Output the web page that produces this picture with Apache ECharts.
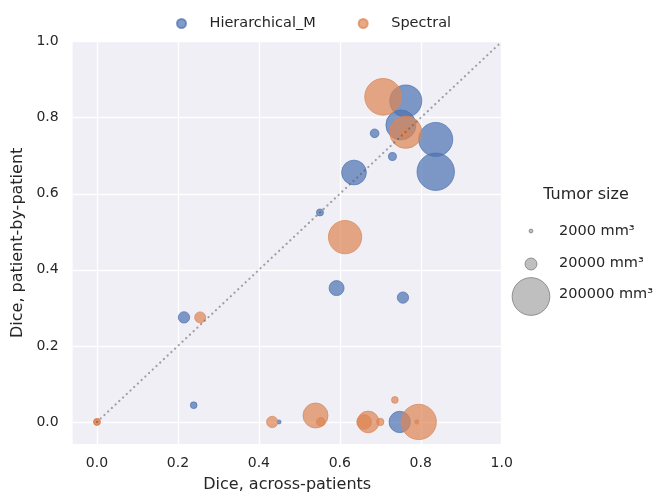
<!DOCTYPE html>
<html>
<head>
<meta charset="utf-8">
<script src="https://cdn.jsdelivr.net/npm/echarts@6/dist/echarts.min.js"></script>
<style>
html,body{margin:0;padding:0;background:#fff;}
#chart{width:657px;height:498px;}
</style>
</head>
<body>
<div id="chart"></div>
<script>
// ---- data ----
const seriesNames = ['Hierarchical_M', 'Spectral'];
const hierX = [0.763, 0.751, 0.686, 0.837, 0.837, 0.730, 0.635, 0.551, 0.592, 0.756, 0.215, 0.239, 0.450, 0.748];
const hierY = [0.844, 0.781, 0.759, 0.743, 0.658, 0.698, 0.656, 0.551, 0.352, 0.327, 0.275, 0.044, 0.0, 0.0];
const hierVol = [144000, 127000, 10600, 163000, 197000, 9000, 86000, 7000, 31700, 18000, 18000, 6300, 2200, 64000];
const specX = [0.707, 0.763, 0.761, 0.613, 0.255, 0.0, 0.0, 0.433, 0.540, 0.553, 0.670, 0.660, 0.700, 0.736, 0.795, 0.790];
const specY = [0.855, 0.762, 0.759, 0.486, 0.275, 0.0, 0.0, 0.0, 0.017, 0.0, 0.0, 0.0, 0.0, 0.058, 0.0, 0.0];
const specVol = [190000, 147000, 9000, 156000, 17000, 6300, 6300, 18000, 88000, 10600, 66000, 30000, 7600, 6300, 175000, 2500];
const tickValues = [0, 0.2, 0.4, 0.6, 0.8, 1.0];
const sizeLegendVols = [2000, 20000, 200000];
const sizeLegendLabels = ['2000 mm³', '20000 mm³', '200000 mm³'];
const identityLine = [[0, 0], [1, 1]];

const colors = ['#4C72B0', '#DD8452'];
const FONT = 'DejaVu Sans';
function sizeFn(v) { return 37.7 * Math.sqrt(v / 200000); }
function zip(xs, ys, vs) { return xs.map((x, i) => [x, ys[i], vs[i]]); }

const chart = echarts.init(document.getElementById('chart'), null, {renderer: 'canvas'});

const axisCommon = {
  type: 'value',
  axisLine: {show: false},
  axisTick: {show: false, customValues: tickValues},
  axisLabel: {customValues: tickValues, color: '#262626', fontSize: 14, fontFamily: FONT,
    formatter: v => v.toFixed(1)},
  splitLine: {show: true, lineStyle: {color: '#ffffff', width: 1.3}},
  nameLocation: 'middle',
  nameTextStyle: {color: '#262626', fontSize: 16, fontFamily: FONT}
};

const legendItems = sizeLegendVols.map((v, i) => ({
  type: 'group',
  children: [
    {type: 'circle', shape: {cx: 531, cy: [231, 264, 296.5][i], r: sizeFn(v) / 2},
     style: {fill: 'rgba(170,170,170,0.75)', stroke: 'rgba(135,135,135,0.9)', lineWidth: 1}},
    {type: 'text', x: 559, y: [231, 263, 294.5][i],
     style: {text: sizeLegendLabels[i], fontSize: 14.5, fontFamily: FONT, fill: '#262626',
       verticalAlign: 'middle'}}
  ]
}));

chart.setOption({
  backgroundColor: '#ffffff',
  animation: false,
  grid: {left: 72.7, right: 155.3, top: 41.7, bottom: 50.3, show: true,
    backgroundColor: '#EFEFF5', borderWidth: 0},
  legend: {
    data: seriesNames, left: 171, top: 11, itemWidth: 46, itemHeight: 9, itemGap: 42,
    icon: 'circle',
    textStyle: {fontSize: 14.5, color: '#262626', fontFamily: FONT}
  },
  xAxis: Object.assign({}, axisCommon, {min: -0.06, max: 1.0, name: 'Dice, across-patients', nameGap: 33,
    axisLabel: Object.assign({}, axisCommon.axisLabel, {margin: 12})}),
  yAxis: Object.assign({}, axisCommon, {min: -0.058, max: 1.0, name: 'Dice, patient-by-patient', nameGap: 42,
    axisLabel: Object.assign({}, axisCommon.axisLabel, {margin: 14})}),
  graphic: [
    {type: 'text', x: 586, y: 195,
     style: {text: 'Tumor size', fontSize: 16, fontFamily: FONT, fill: '#262626',
       align: 'center', verticalAlign: 'middle'}}
  ].concat(legendItems),
  series: [
    {name: seriesNames[0], type: 'scatter', data: zip(hierX, hierY, hierVol),
     symbolSize: d => sizeFn(d[2]),
     itemStyle: {color: colors[0], opacity: 0.7, borderColor: colors[0], borderWidth: 1}, z: 2},
    {name: seriesNames[1], type: 'scatter', data: zip(specX, specY, specVol),
     symbolSize: d => sizeFn(d[2]),
     itemStyle: {color: colors[1], opacity: 0.7, borderColor: colors[1], borderWidth: 1}, z: 2},
    {name: 'identity', type: 'line', data: identityLine, symbol: 'none', silent: true, z: 5,
     lineStyle: {type: [0.1, 5], cap: 'round', color: 'rgba(80,80,80,0.5)', width: 2.2}}
  ]
});
</script>
</body>
</html>
